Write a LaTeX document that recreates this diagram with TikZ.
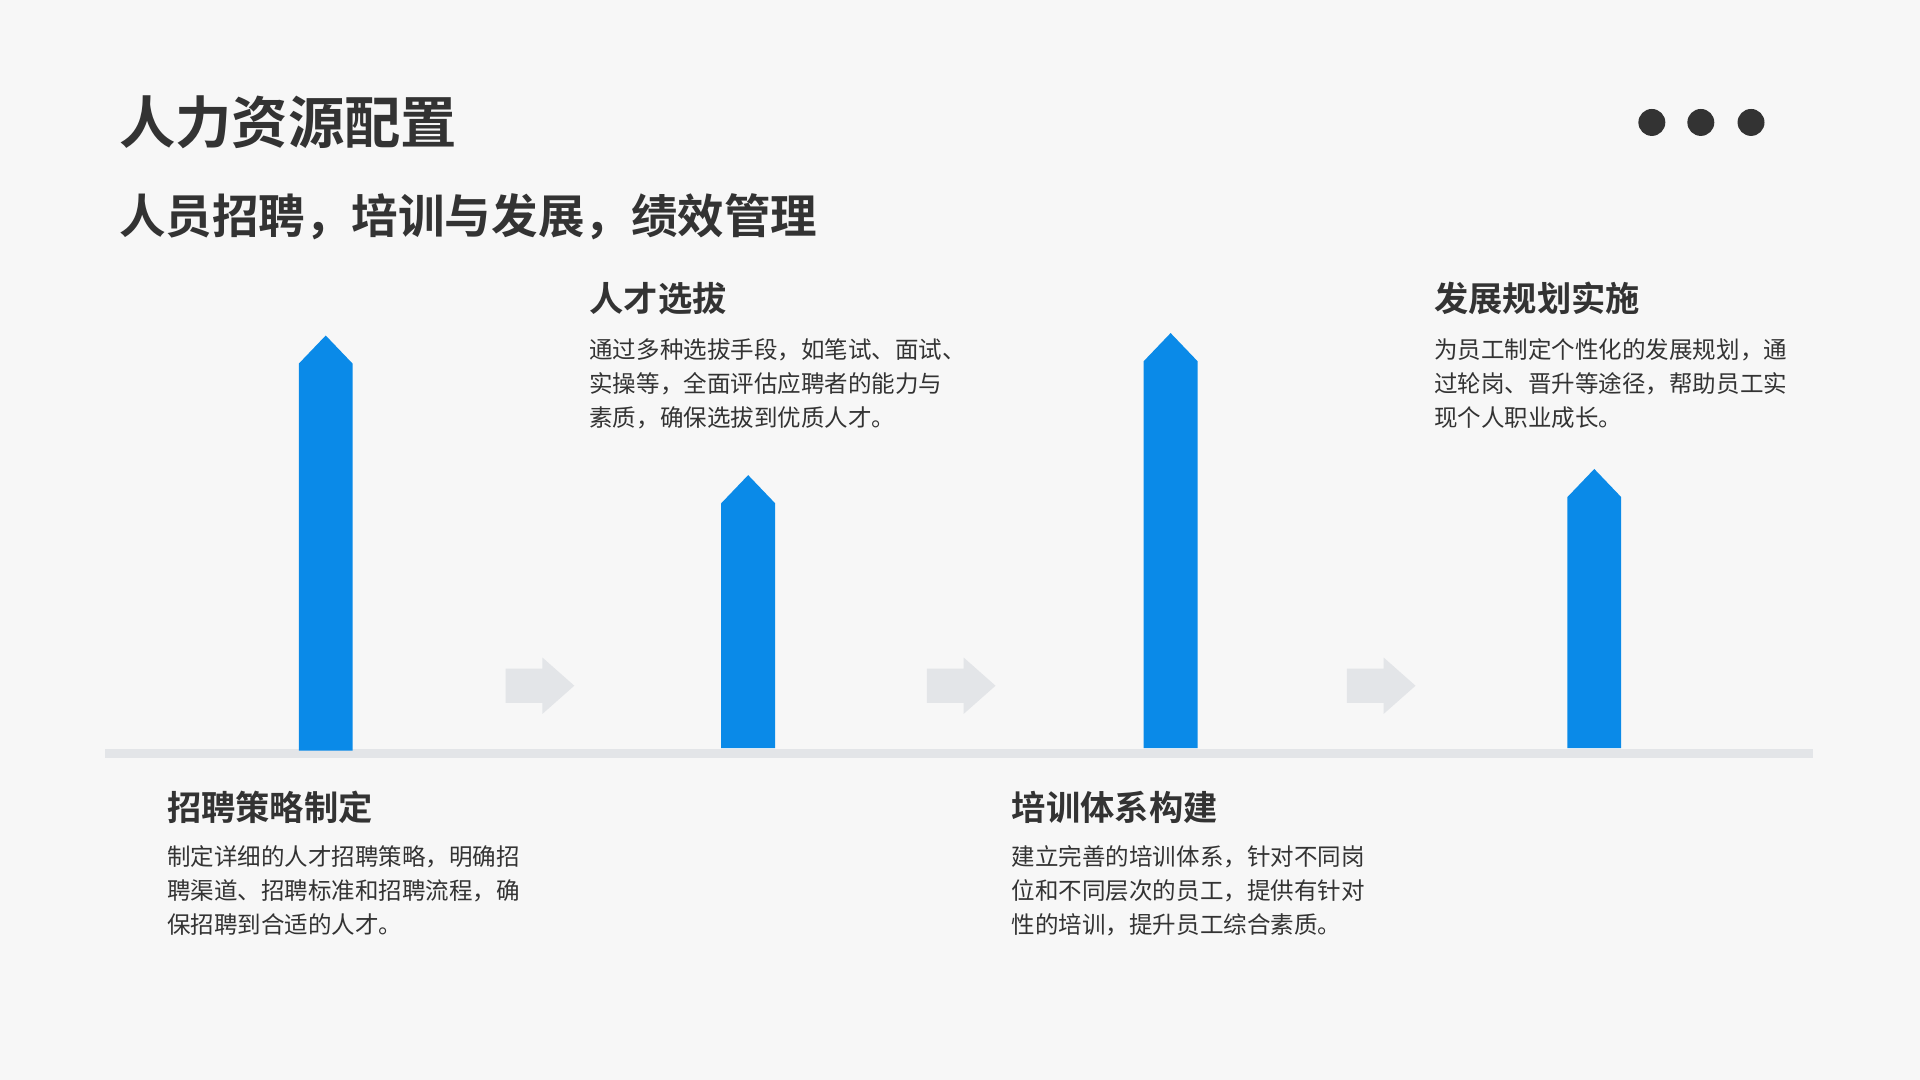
\documentclass[tikz,border=0pt]{standalone}
\usepackage{fontspec}
\setmainfont{Noto Sans CJK SC}
\newfontfamily\cjkbold{Noto Sans CJK SC Bold}
\definecolor{bgc}{HTML}{F7F7F7}
\definecolor{ink}{HTML}{333333}
\definecolor{barblue}{HTML}{0A8AE8}
\definecolor{railgray}{HTML}{E3E5E8}
\tikzset{
  headtext/.style={anchor=west,inner sep=0pt,text=ink,font=\cjkbold\fontsize{14pt}{16pt}\selectfont},
  bodytext/.style={anchor=north west,inner sep=0pt,text=ink,align=left,font=\fontsize{9.6pt}{14pt}\selectfont},
  chevron/.style={fill=railgray,draw=none},
}
% upward arrow bar: x left, tip y, bottom y
\newcommand{\upbar}[3]{%
  \fill[barblue] (#1,#3)--(#1,#2+23)--(#1+22,#2)--(#1+44,#2+23)--(#1+44,#3)--cycle;}
\newcommand{\chev}[1]{%
  \fill[railgray] (#1,546)--(#1+30,546)--(#1+30,537)--(#1+56,560)--(#1+30,583)--(#1+30,574)--(#1,574)--cycle;}
\begin{document}
\begin{tikzpicture}[x=0.5pt,y=-0.5pt]
  \fill[bgc] (0,0) rectangle (1568,882);
  \useasboundingbox (0,0) rectangle (1568,882);
  \node[anchor=west,inner sep=0pt,text=ink,font=\cjkbold\fontsize{23pt}{26pt}\selectfont] (title) at (97,100) {人力资源配置};
  \node[anchor=west,inner sep=0pt,text=ink,font=\cjkbold\fontsize{19pt}{22pt}\selectfont] (subtitle) at (97,177) {人员招聘，培训与发展，绩效管理};
  \foreach \x/\n in {1349/a,1389/b,1430/c}
    \fill[ink] (\x,100) circle (11);
  % rail
  \fill[railgray] (86,612) rectangle (1481,619);
  \upbar{244}{274}{613}
  \upbar{589}{388}{611}
  \upbar{934}{272}{611}
  \upbar{1280}{383}{611}
  \chev{413}
  \chev{757}
  \chev{1100}
  % stages
  \node[headtext] (h1) at (136,659) {招聘策略制定};
  \node[bodytext] (b1) at (136,690) {制定详细的人才招聘策略，明确招\\聘渠道、招聘标准和招聘流程，确\\保招聘到合适的人才。};
  \node[headtext] (h2) at (481,244) {人才选拔};
  \node[bodytext] (b2) at (481,276) {通过多种选拔手段，如笔试、面试、\\实操等，全面评估应聘者的能力与\\素质，确保选拔到优质人才。};
  \node[headtext] (h3) at (826,659) {培训体系构建};
  \node[bodytext] (b3) at (826,690) {建立完善的培训体系，针对不同岗\\位和不同层次的员工，提供有针对\\性的培训，提升员工综合素质。};
  \node[headtext] (h4) at (1171,244) {发展规划实施};
  \node[bodytext] (b4) at (1171,276) {为员工制定个性化的发展规划，通\\过轮岗、晋升等途径，帮助员工实\\现个人职业成长。};
\end{tikzpicture}
\end{document}
